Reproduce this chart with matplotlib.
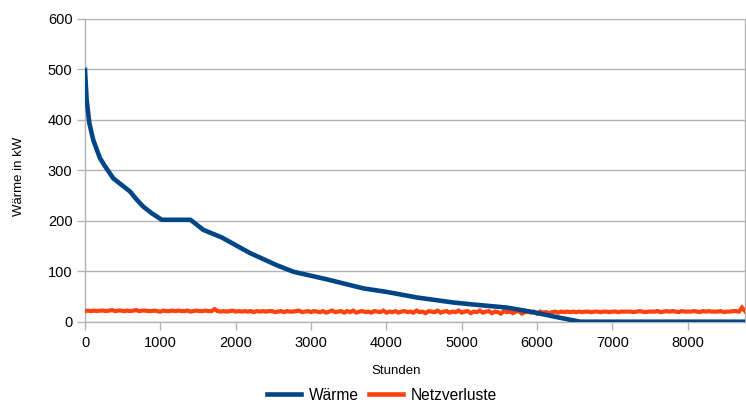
import matplotlib
matplotlib.use("Agg")
import matplotlib.pyplot as plt
from matplotlib.lines import Line2D

plt.rcParams['font.family'] = ['Liberation Sans', 'DejaVu Sans']

# Heat demand load-duration curve (hours sorted by demand)
waerme_hours = [0, 22, 57, 110, 199, 266, 376, 487, 598, 686, 774, 886, 1018,
                1400, 1571, 1815, 2191, 2545, 2766, 3209, 3696, 4006, 4405,
                4891, 5157, 5600, 5910, 6264, 6574, 8760]
waerme_kw = [499, 440, 394, 360, 324, 308, 284, 271, 258, 242, 228, 215, 202,
             202, 182, 167, 136, 112, 99, 84, 66, 59, 48,
             38, 34, 28, 20, 9, 0, 0]

# Network losses, one value every 40 hours
verluste_step = 40
verluste_kw = [
    21, 22, 21, 22, 21, 22, 22, 21, 22, 23, 21, 22, 22, 21, 22, 21, 22, 23, 21, 22,
    22, 21, 21, 22, 21, 20, 22, 21, 21, 22, 21, 22, 21, 21, 22, 20, 21, 22, 21, 21,
    22, 21, 21, 25, 21, 20, 21, 20, 21, 22, 20, 21, 20, 21, 20, 21, 19, 21, 20, 21,
    20, 21, 21, 19, 20, 21, 19, 21, 20, 20, 21, 22, 19, 20, 21, 19, 21, 20, 19, 21,
    18, 20, 22, 19, 20, 21, 18, 21, 19, 22, 18, 20, 21, 19, 20, 18, 21, 20, 19, 22,
    18, 20, 19, 21, 18, 20, 21, 19, 20, 18, 22, 19, 20, 17, 21, 20, 19, 22, 18, 20,
    21, 18, 20, 19, 22, 18, 20, 21, 17, 20, 19, 22, 18, 20, 21, 17, 20, 19, 16, 21,
    19, 20, 17, 20, 21, 16, 19, 20, 18, 20, 16, 20, 18, 19, 17, 19, 20, 18, 20, 19,
    20, 19, 20, 19, 20, 19, 20, 20, 19, 20, 20, 19, 20, 20, 19, 20, 20, 19, 20, 20,
    20, 20, 19, 20, 21, 20, 19, 20, 20, 20, 21, 19, 20, 21, 20, 21, 20, 19, 21, 20,
    20, 20, 21, 20, 19, 21, 20, 21, 20, 20, 20, 21, 19, 20, 20, 21, 21, 20, 28, 21,
]
verluste_hours = [i * verluste_step for i in range(len(verluste_kw))]

x_ticks = [0, 1000, 2000, 3000, 4000, 5000, 6000, 7000, 8000]
y_ticks = [0, 100, 200, 300, 400, 500, 600]

BLUE = '#004586'
ORANGE = '#ff420e'
GRID = '#b3b3b3'

W, H = 746, 403
fig = plt.figure(figsize=(W / 100, H / 100), dpi=100)
left, right, top, bottom = 85, 745, 19, 321.7
ax = fig.add_axes([left / W, 1 - bottom / H, (right - left) / W, (bottom - top) / H])

ax.plot(verluste_hours, verluste_kw, color=ORANGE, lw=3.0, zorder=3,
        solid_joinstyle='miter')
ax.plot(waerme_hours, waerme_kw, color=BLUE, lw=3.3, zorder=4,
        solid_joinstyle='round')

ax.set_xlim(0, 8760)
ax.set_ylim(0, 600)
ax.set_xticks(x_ticks)
ax.set_yticks(y_ticks)
ax.grid(axis='y', color=GRID, lw=1.0)
ax.set_axisbelow(True)

for side in ['left', 'bottom', 'right']:
    ax.spines[side].set_color(GRID)
    ax.spines[side].set_linewidth(1.0)
ax.spines['top'].set_visible(False)

ax.tick_params(axis='both', colors=GRID, labelcolor='black', labelsize=10.5,
               length=6, width=1.0, direction='out')
ax.tick_params(axis='y', pad=3)
ax.tick_params(axis='x', pad=4)
ax.tick_params(axis='y', which='both', right=False)

fig.text(19 / W, 1 - 176 / H, 'Wärme in kW', rotation=90, ha='center',
         va='center', fontsize=9.5)
fig.text(396 / W, 1 - 370.5 / H, 'Stunden', ha='center', va='center',
         fontsize=9.5)

handles = [Line2D([], [], color=BLUE, lw=3.3),
           Line2D([], [], color=ORANGE, lw=3.3)]
fig.legend(handles, ['Wärme', 'Netzverluste'], loc='center',
           bbox_to_anchor=(382 / W, 1 - 395 / H), ncol=2, frameon=False,
           fontsize=11.2, handlelength=2.2, handletextpad=0.5,
           columnspacing=0.6, borderaxespad=0)

fig.savefig('out.png', dpi=100)
